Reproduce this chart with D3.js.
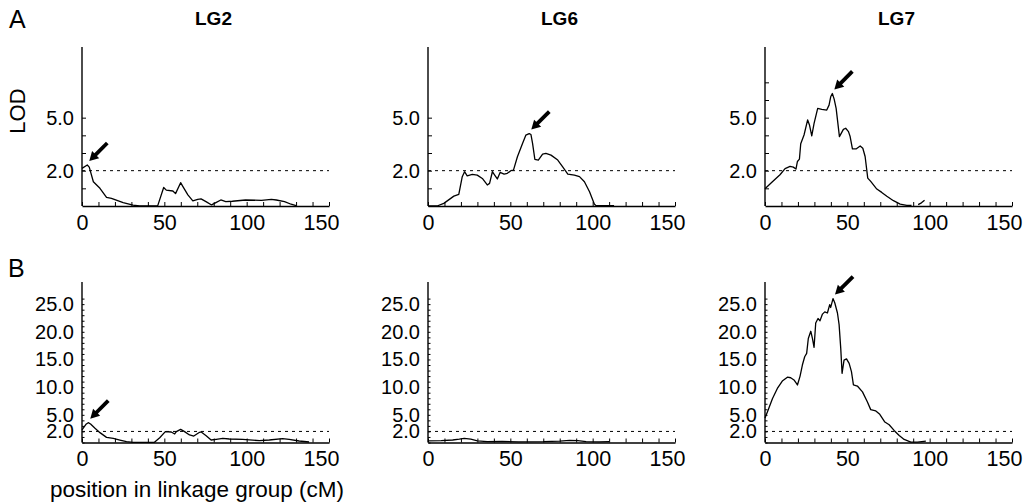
<!DOCTYPE html>
<html>
<head>
<meta charset="utf-8">
<script src="https://cdn.jsdelivr.net/npm/d3@7"></script>
<style>
  body { margin: 0; background: #fff; }
  text { font-family: "Liberation Sans", Arial, Helvetica, sans-serif; fill: #000; }
</style>
</head>
<body>
<script>
// linkage groups and thresholds
const groups = ["LG2", "LG6", "LG7"];
const threshold = 2.0;
const xTickLabels = [0, 50, 100, 150];
const yTickLabelsA = [2, 5];
const yTickLabelsB = [2, 5, 10, 15, 20, 25];

// row A: LOD profiles [position cM, LOD]
const lodA_LG2 = [[0,2.13],[3.2,2.32],[4.4,2.2],[6.9,1.37],[10.9,1.0],[14.9,0.49],[17.9,0.43],[25,0.19],[31,0.05],[35,0],[46,0.02],[49.6,1.05],[51.2,0.9],[55.2,0.85],[56.8,0.7],[59.9,1.32],[61.3,1.1],[64.3,0.63],[67.3,0.29],[70.3,0.38],[72.3,0.4],[75.3,0.25],[78.7,0.06],[81.3,0.19],[84.3,0.34],[87.3,0.25],[91.3,0.27],[99.3,0.34],[109,0.32],[115,0.38],[118,0.34],[123,0.25],[127,0.1],[130,0.02]];
const lodA_LG6 = [[0,0],[5.5,0],[9.6,0.15],[15.7,0.56],[18.7,0.66],[20.8,1.66],[22.2,1.94],[23.8,1.71],[26.9,1.79],[29.9,1.75],[33,1.56],[36,1.19],[37.4,1.28],[39.1,1.94],[40.5,1.75],[42.1,1.53],[43.8,1.9],[46.2,1.81],[48.2,1.85],[50.3,2.0],[51.9,2.03],[54.3,2.79],[57.4,3.54],[59.4,4.01],[61.5,4.1],[62.5,4.05],[63.5,3.54],[64.9,2.64],[67,2.6],[69.6,2.94],[71.6,2.98],[74.7,2.88],[78.8,2.6],[81.8,2.22],[84.9,1.81],[88.9,1.75],[92,1.66],[95,1.37],[98.1,0.81],[101,0.11],[102,0.02],[113,0.02]];
const lodA_LG7 = [[0,0.98],[4,1.33],[9.1,1.77],[12.2,2.12],[15.2,2.24],[17.2,2.2],[18.8,2.09],[19.7,2.52],[20.9,2.65],[21.7,3.52],[23.7,4.02],[25.9,4.87],[27,4.59],[28.4,3.97],[29.8,4.68],[32,5.53],[34.5,5.47],[37.5,5.43],[38.9,5.71],[39.9,6.18],[40.9,6.37],[42,6.05],[43.2,5.53],[45.2,3.93],[47.6,4.34],[49,4.4],[50.7,4.21],[51.7,3.93],[53.1,3.23],[55.3,3.23],[57.8,3.4],[59.4,3.27],[60.8,2.8],[62.4,1.58],[64.2,1.39],[67.9,0.96],[70.9,0.77],[74,0.55],[78,0.3],[82.1,0.11],[86.1,0.04],[89,0.03],null,[93,0.08],[95,0.18],[96.9,0.32]];

// row B: LOD profiles [position cM, LOD]
const lodB_LG2 = [[0,2.26],[2.4,3.28],[3.8,3.58],[5.2,3.34],[7.9,2.56],[10.9,1.78],[14.9,0.93],[19,0.75],[23,0.45],[27,0.15],[31,0.03],[44,0.03],[47.2,0.87],[50.6,1.96],[54.2,1.9],[56.3,1.54],[57.3,1.96],[59.9,2.38],[62.3,1.96],[65.3,1.36],[67.9,1.17],[71.4,1.84],[72.4,1.9],[75.4,1.23],[78.4,0.45],[81.5,0.57],[85.5,0.75],[89.5,0.63],[97.6,0.57],[107.7,0.33],[113.7,0.45],[121.8,0.69],[125.8,0.57],[131.9,0.27],[137.9,0.09]];
const lodB_LG6 = [[0,0.3],[8,0.35],[15,0.45],[19,0.6],[22,0.75],[26,0.6],[30,0.3],[36,0.15],[45,0.2],[55,0.1],[70,0.15],[80,0.25],[86,0.4],[91,0.35],[96,0.15],[104,0.1],[110,0.15]];
const lodB_LG7 = [[0,4.42],[1.8,5.8],[4.5,7.9],[7.5,9.76],[10.5,11.1],[13.6,11.8],[15.6,11.7],[17.6,11.3],[19.7,10.4],[21.3,12],[22.7,14],[24.1,15.5],[25.3,16.1],[26.3,18.8],[27.8,20.1],[28.8,18.8],[29.8,17.2],[30.8,21.6],[32.2,22.4],[33.4,22],[34.9,23.2],[36.3,23.6],[37.9,23.4],[39.3,24.9],[39.9,24.4],[41.3,26],[42.4,25.2],[44,23.4],[45,21.3],[46,17],[46.8,12.5],[48,14.9],[49.5,15.1],[51.1,14.3],[52.5,12.8],[53.7,10.4],[56.1,10.2],[59.2,9.15],[62.2,7.33],[64.2,5.94],[67.3,5.7],[69.7,5.1],[72.8,3.7],[75.4,3.2],[78.4,2.18],[81.5,1.27],[84.5,0.55],[88.6,0.06],[92.6,0.06],[97.7,0.24]];

// arrow targets (peaks) [cM, LOD]
const peaksA = [[3.2,2.32],[61.5,4.1],[40.9,6.37]];
const peaksB = [[3.8,3.58],null,[41.3,26]];

const svg = d3.select("body").append("svg")
    .attr("width", 1027)
    .attr("height", 504);

const colX = [82, 428, 765];
const panelW = 247;

const rows = [
    { data: [lodA_LG2, lodA_LG6, lodA_LG7], peaks: peaksA, top: 47, bottom: 206, ymax: 9,
      minor: [d3.range(1, 6), d3.range(1, 6), d3.range(1, 8)], labels: yTickLabelsA, tick: 4 },
    { data: [lodB_LG2, lodB_LG6, lodB_LG7], peaks: peaksB, top: 282, bottom: 442.5, ymax: 29,
      minor: [d3.range(0, 27), d3.range(0, 27), d3.range(0, 27)], labels: yTickLabelsB, tick: 2.5 }
];

function arrow(g, px, py) {
    const tip = [px + 2, py - 4];
    const tail = [tip[0] + 18, tip[1] - 18];
    const dx = tip[0] - tail[0], dy = tip[1] - tail[1];
    const len = Math.hypot(dx, dy), ux = dx / len, uy = dy / len;
    const head = 9, hw = 5;
    const bx = tip[0] - ux * head, by = tip[1] - uy * head;
    g.append("line")
        .attr("x1", tail[0]).attr("y1", tail[1])
        .attr("x2", bx + ux).attr("y2", by + uy)
        .attr("stroke", "#000").attr("stroke-width", 3.8);
    g.append("path")
        .attr("d", `M${tip[0]},${tip[1]}L${bx - uy * hw},${by + ux * hw}L${bx + uy * hw},${by - ux * hw}Z`)
        .attr("fill", "#000");
}

rows.forEach((row, ri) => {
    groups.forEach((grp, ci) => {
        const x = d3.scaleLinear().domain([0, 150]).range([colX[ci], colX[ci] + panelW]);
        const y = d3.scaleLinear().domain([0, row.ymax]).range([row.bottom, row.top]);
        const g = svg.append("g");

        // x axis
        const xa = g.append("g")
            .attr("transform", `translate(0,${row.bottom})`)
            .call(d3.axisBottom(x)
                .tickValues(d3.range(0, 151, 10))
                .tickSize(-4)
                .tickSizeOuter(0)
                .tickPadding(ri === 0 ? 9 : 8)
                .tickFormat(d => xTickLabels.includes(d) ? d : ""));
        xa.selectAll("text").style("font-size", "21.5px").attr("fill", "#000");
        // last label pulled in so it stays inside the frame
        xa.selectAll(".tick").filter(d => d === 150).select("text").attr("x", -8);

        // y axis
        const ya = g.append("g")
            .attr("transform", `translate(${colX[ci]},0)`)
            .call(d3.axisLeft(y)
                .tickValues(row.minor[ci])
                .tickSize(-row.tick)
                .tickSizeOuter(0)
                .tickPadding(8)
                .tickFormat(d => row.labels.includes(d) ? d.toFixed(1) : ""));
        ya.selectAll("text").style("font-size", "20px").attr("fill", "#000");
        // extend the y axis line to the top of the panel
        ya.select(".domain").attr("d", `M0,${row.bottom}V${row.top}`);
        g.selectAll(".domain").attr("stroke", "#000").attr("stroke-width", 1.4);
        g.selectAll(".tick line").attr("stroke", "#000").attr("stroke-width", 1);

        // threshold line
        g.append("line")
            .attr("x1", x(0)).attr("x2", x(150))
            .attr("y1", y(threshold)).attr("y2", y(threshold))
            .attr("stroke", "#000")
            .attr("stroke-width", 1)
            .attr("stroke-dasharray", "3,4");

        // LOD curve
        const line = d3.line()
            .defined(d => d !== null)
            .x(d => x(d[0]))
            .y(d => y(d[1]));
        g.append("path")
            .datum(row.data[ci])
            .attr("d", line)
            .attr("fill", "none")
            .attr("stroke", "#000")
            .attr("stroke-width", 1.3)
            .attr("stroke-linejoin", "round");

        const pk = row.peaks[ci];
        if (pk) arrow(g, x(pk[0]), y(pk[1]));

        // titles
        if (ri === 0) {
            svg.append("text")
                .attr("x", x(75) + 8)
                .attr("y", 25)
                .attr("text-anchor", "middle")
                .style("font-size", "19px")
                .style("font-weight", "bold")
                .text(grp);
        }
    });
});

// panel letters and axis labels
svg.append("text").attr("x", 9).attr("y", 28).style("font-size", "25px").text("A");
svg.append("text").attr("x", 8).attr("y", 277).style("font-size", "25px").text("B");

svg.append("text")
    .attr("transform", "translate(25,111) rotate(-90)")
    .attr("text-anchor", "middle")
    .style("font-size", "22px")
    .text("LOD");

svg.append("text")
    .attr("x", 197)
    .attr("y", 497)
    .attr("text-anchor", "middle")
    .style("font-size", "22.5px")
    .text("position in linkage group (cM)");
</script>
</body>
</html>
